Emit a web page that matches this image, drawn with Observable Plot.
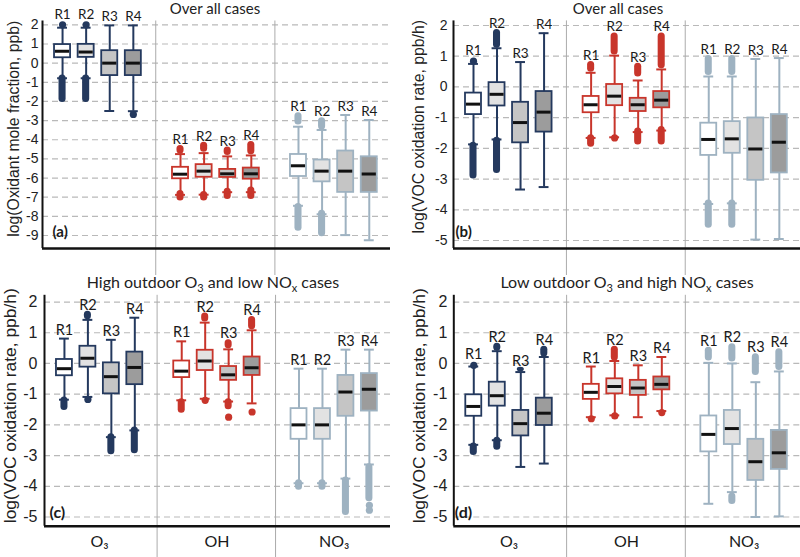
<!DOCTYPE html>
<html><head><meta charset="utf-8">
<script src="https://cdn.jsdelivr.net/npm/d3@7"></script>
<script src="https://cdn.jsdelivr.net/npm/@observablehq/plot@0.6"></script>
<style>
body{margin:0;background:#fff;}
#wrap{position:relative;width:800px;height:557px;overflow:hidden;background:#fff;}
.panel{position:absolute;}
.title{position:absolute;width:400px;text-align:center;font-family:Lato,"Open Sans",sans-serif;color:#222;white-space:nowrap;}
.title sub{font-size:11px;vertical-align:baseline;position:relative;top:4px;}
</style></head><body><div id="wrap"></div>
<script>
// categories
const groups = ["O₃", "OH", "NO₃"];
const regions = ["R1", "R2", "R3", "R4"];
const groupColors = ["#24395e", "#c8352b", "#9eb2c1"];
const regionFills = ["#ffffff", "#e2e2e2", "#c5c5c5", "#9c9c9c"];
const separators = [3.95, 9];
const groupCenters = [1.5, 6.5, 11.5];

// titles and labels
const titles = ["Over all cases", "Over all cases",
  "High outdoor O<sub>3</sub> and low NO<sub>x</sub> cases",
  "Low outdoor O<sub>3</sub> and high NO<sub>x</sub> cases"];
const yLabels = ["log(Oxidant mole fraction, ppb)", "log(VOC oxidation rate, ppb/h)",
  "log(VOC oxidation rate, ppb/h)", "log(VOC oxidation rate, ppb/h)"];
const tags = ["(a)", "(b)", "(c)", "(d)"];
const ticksA = [2, 1, 0, -1, -2, -3, -4, -5, -6, -7, -8, -9];
const ticksB = [2, 1, 0, -1, -2, -3, -4, -5];

// box order: O3 R1..R4, OH R1..R4, NO3 R1..R4
// panel (a)
const aLow  = [-0.79, -0.79, -2.50, -2.51, -6.88, -6.87, -6.74, -6.74, -7.45, -7.89, -8.98, -9.25];
const aQ1   = [0.28, 0.30, -0.65, -0.65, -6.04, -5.96, -5.97, -6.06, -5.92, -6.20, -6.75, -6.75];
const aMed  = [0.62, 0.58, 0.00, 0.00, -5.80, -5.64, -5.78, -5.78, -5.36, -5.64, -5.64, -5.79];
const aQ3   = [0.97, 0.98, 0.65, 0.65, -5.44, -5.30, -5.55, -5.48, -4.77, -5.06, -4.59, -4.89];
const aHigh = [1.85, 1.85, 1.97, 1.97, -4.75, -4.70, -4.87, -4.82, -3.32, -3.49, -2.71, -2.97];
// outliers: [box, value] = single point, [box, top, bottom] = dense run of points
const aOut = [[0, 2.0], [0, -0.62, -2.05], [1, 2.0], [1, -0.62, -2.05], [3, -2.68],
  [4, -4.30, -4.74], [4, -6.65, -7.20], [5, -4.13, -4.65], [5, -6.70, -7.20],
  [6, -4.38, -4.82], [6, -6.53, -7.12], [7, -4.09, -4.78], [7, -6.47, -7.12],
  [8, -2.59, -3.23], [8, -7.33, -8.78], [9, -2.85, -3.49], [9, -7.68, -9.07]];

// panel (b)
const bLow  = [-1.87, -1.71, -3.34, -3.26, -1.66, -1.64, -1.47, -1.42, -3.81, -3.79, -4.97, -4.95];
const bQ1   = [-0.90, -0.62, -1.82, -1.47, -0.84, -0.61, -0.80, -0.68, -2.23, -2.16, -3.04, -2.80];
const bMed  = [-0.56, -0.24, -1.16, -0.82, -0.58, -0.30, -0.58, -0.43, -1.71, -1.69, -2.02, -1.80];
const bQ3   = [-0.20, 0.14, -0.50, -0.15, -0.31, 0.08, -0.37, -0.15, -1.18, -1.13, -1.01, -0.90];
const bHigh = [0.75, 1.26, 0.81, 1.75, 0.46, 1.02, 0.21, 0.57, 0.34, 0.34, 0.91, 0.94];
const bOut = [[0, 0.84], [0, -1.80, -3.00], [1, 1.87, 1.26], [1, -1.64, -2.82],
  [4, 0.83, 0.48], [4, -1.56, -1.96], [5, 1.76, 1.04], [5, -1.66],
  [6, 0.77, 0.32], [6, -1.34, -1.89], [7, 1.76, 0.59], [7, -1.29, -1.89],
  [8, 1.02, 0.37], [8, -3.68, -4.60], [9, 1.02, 0.37], [9, -3.68, -4.60]];

// panel (c)
const cLow  = [-1.18, -1.09, -2.40, -2.18, -1.20, -1.15, -1.24, -1.30, -3.90, -3.90, -3.75, -3.29];
const cQ1   = [-0.40, -0.12, -0.99, -0.69, -0.46, -0.23, -0.55, -0.39, -2.47, -2.47, -1.72, -1.55];
const cMed  = [-0.17, 0.17, -0.43, -0.13, -0.25, 0.08, -0.37, -0.14, -2.00, -2.00, -0.93, -0.84];
const cQ3   = [0.13, 0.56, 0.02, 0.37, 0.08, 0.43, -0.10, 0.21, -1.47, -1.47, -0.39, -0.33];
const cHigh = [0.81, 1.42, 0.77, 1.49, 0.72, 1.33, 0.46, 1.08, -0.17, -0.17, 0.45, 0.45];
const cOut = [[0, -1.09, -1.53], [1, 1.70, 1.42], [1, -1.17], [2, -2.29, -2.97], [3, -2.07, -2.94],
  [4, -1.15, -1.62], [5, 1.64, 1.35], [5, -1.20], [6, 0.77, 0.48], [6, -1.15, -1.51], [6, -1.75],
  [7, 1.53, 1.10], [7, -1.58], [8, -3.79, -4.13], [9, -3.79, -4.13], [10, -3.70, -4.95],
  [11, -3.27, -4.50], [11, -4.62], [11, -4.78]];

// panel (d)
const dLow  = [-2.65, -2.50, -3.37, -3.26, -1.75, -1.69, -1.75, -1.55, -4.57, -4.19, -5.00, -4.98];
const dQ1   = [-1.72, -1.39, -2.36, -2.02, -1.17, -0.99, -1.04, -0.86, -2.88, -2.64, -3.81, -3.45];
const dMed  = [-1.40, -1.05, -1.96, -1.62, -0.94, -0.75, -0.80, -0.68, -2.31, -2.12, -3.20, -2.91];
const dQ3   = [-1.02, -0.61, -1.53, -1.13, -0.68, -0.50, -0.55, -0.44, -1.71, -1.53, -2.47, -2.18];
const dHigh = [-0.10, 0.40, -0.28, 0.21, -0.10, 0.08, -0.06, 0.21, 0.02, 0.00, -0.61, -0.26];
const dOut = [[0, -0.06], [0, -2.59, -3.00], [1, 0.66, 0.40], [1, -2.40, -2.83], [2, -0.12, -0.27],
  [3, 0.56, 0.21], [4, -1.80], [5, 0.56, 0.08], [5, -1.71], [7, -1.60],
  [8, 0.53, 0.08], [9, 0.64, 0.05], [9, -4.22, -4.59], [10, 0.32, -0.39], [11, 0.48, -0.23]];

const xDomain = [-0.85, 13.9];
const boxHalf = 0.34, capHalf = 0.21, runHalf = 0.15;

const panels = [
  {left: 0, top: 0, h: 275, ml: 42, mr: 10, mt: 20.5, mb: 27, yd: [-9.68, 2.2], ticks: ticksA,
   low: aLow, q1: aQ1, med: aMed, q3: aQ3, high: aHigh, out: aOut,
   tickPad: 4, tickFont: 14, labFont: 15.8, labDx: -29, labDy: -6, tagDx: 10, tagDy: -12, tagFont: 15, rFont: 13.5, xLab: false,
   tLeft: 15, tTop: 0, tFont: 15, tLine: 17},
  {left: 400, top: 0, h: 275, ml: 53, mr: 0, mt: 20.4, mb: 27, yd: [-5.26, 2.15], ticks: ticksB,
   low: bLow, q1: bQ1, med: bMed, q3: bQ3, high: bHigh, out: bOut,
   tickPad: 6, tickFont: 14, labFont: 15.8, labDx: -35, labDy: -8, tagDx: 2, tagDy: -12, tagFont: 15, rFont: 13.5, xLab: false,
   tLeft: 418, tTop: 0, tFont: 15, tLine: 17},
  {left: 0, top: 275, h: 282, ml: 44, mr: 10, mt: 19.8, mb: 31.3, yd: [-5.3, 2.22], ticks: ticksB,
   low: cLow, q1: cQ1, med: cMed, q3: cQ3, high: cHigh, out: cOut,
   tickPad: 7, tickFont: 16, labFont: 17.4, labDx: -34, labDy: -5, tagDx: 5, tagDy: -8, tagFont: 16, rFont: 14.5, xLab: true,
   tLeft: 13, tTop: 274, tFont: 16, tLine: 16},
  {left: 400, top: 275, h: 282, ml: 53.3, mr: 0, mt: 19.8, mb: 31.3, yd: [-5.3, 2.22], ticks: ticksB,
   low: dLow, q1: dQ1, med: dMed, q3: dQ3, high: dHigh, out: dOut,
   tickPad: 6.5, tickFont: 16, labFont: 17.4, labDx: -34, labDy: -5, tagDx: 1, tagDy: -8, tagFont: 16, rFont: 14.5, xLab: true,
   tLeft: 427, tTop: 274, tFont: 16, tLine: 16}
];

const wrap = document.getElementById("wrap");
const col = d => groupColors[d.g];
const sans = "'Liberation Sans', Arial, sans-serif";
const lato = "Lato, 'Open Sans', sans-serif";

panels.forEach((p, k) => {
  const boxes = p.low.map((lo, i) => ({
    i, g: Math.floor(i / 4), r: i % 4, slot: Math.floor(i / 4) * 5 + (i % 4),
    low: lo, q1: p.q1[i], med: p.med[i], q3: p.q3[i], high: p.high[i]
  }));
  // what sits on top of each box: "cap" (whisker end), "run" (dense outliers) or "dot" (single outlier)
  boxes.forEach(b => {
    let top = b.high, kind = "cap";
    p.out.filter(o => o[0] === b.i).forEach(o => { if (o[1] > top) { top = o[1]; kind = o.length === 2 ? "dot" : "run"; } });
    b.top = top; b.kind = kind;
  });
  const segs = p.out.filter(o => o.length === 3).map(o => ({...boxes[o[0]], a: o[1], b: o[2]}));
  const pts = p.out.filter(o => o.length === 2).map(o => ({...boxes[o[0]], v: o[1]}));
  const labelGap = {cap: -4, run: -1.5, dot: -6};

  const marks = [
    Plot.gridY(p.ticks, {stroke: "#b9b9b9", strokeOpacity: 1, strokeWidth: 1.2, strokeDasharray: "6,4"}),
    Plot.ruleX(separators, {stroke: "#ababab", strokeWidth: 1}),
    Plot.axisX(separators, {tickSize: p.mb, tickFormat: () => "", stroke: "#ababab", label: null}),
    Plot.ruleX(boxes, {x: "slot", y1: "low", y2: "high", stroke: col, strokeWidth: 2}),
    Plot.rect(segs, {x1: d => d.slot - runHalf, x2: d => d.slot + runHalf, y1: "b", y2: "a", fill: col, rx: 3.5}),
    Plot.dot(pts, {x: "slot", y: "v", r: 3.6, fill: col, stroke: null}),
    Plot.ruleY(boxes, {y: "low", x1: d => d.slot - capHalf, x2: d => d.slot + capHalf, stroke: col, strokeWidth: 2}),
    Plot.ruleY(boxes, {y: "high", x1: d => d.slot - capHalf, x2: d => d.slot + capHalf, stroke: col, strokeWidth: 2}),
    Plot.rect(boxes, {x1: d => d.slot - boxHalf, x2: d => d.slot + boxHalf, y1: "q1", y2: "q3",
      fill: d => regionFills[d.r], stroke: col, strokeWidth: 1.8}),
    Plot.ruleY(boxes, {y: "med", x1: d => d.slot - boxHalf + 0.04, x2: d => d.slot + boxHalf - 0.04, stroke: "#111", strokeWidth: 3}),
    ...["cap", "run", "dot"].map(kind => Plot.text(boxes.filter(b => b.kind === kind), {
      x: "slot", y: "top", text: d => regions[d.r], dy: labelGap[kind], lineAnchor: "bottom",
      fontSize: p.rFont, fontFamily: lato, fill: "#1a1a1a"})),
    Plot.ruleX([xDomain[0]], {stroke: "#111", strokeWidth: 2}),
    Plot.ruleY([p.yd[0]], {stroke: "#111", strokeWidth: 2.5}),
    Plot.axisY(p.ticks, {tickSize: 0, tickPadding: p.tickPad, tickFormat: d => String(d), fontSize: p.tickFont,
      fontFamily: sans, fill: "#222", label: null}),
    Plot.text([yLabels[k]], {frameAnchor: "left", rotate: -90, dx: p.labDx, dy: p.labDy, fontSize: p.labFont,
      fontFamily: sans, fill: "#222", textAnchor: "middle"}),
    Plot.text([tags[k]], {frameAnchor: "bottom-left", textAnchor: "start", lineAnchor: "bottom", dx: p.tagDx, dy: p.tagDy,
      fontWeight: "bold", fontSize: p.tagFont, fontFamily: lato, fill: "#1a1a1a"})
  ];
  if (p.xLab) {
    marks.push(Plot.text(groups, {x: (d, i) => groupCenters[i], frameAnchor: "bottom", lineAnchor: "top", dy: 9,
      fontSize: 16, fontFamily: lato, fill: "#1a1a1a"}));
  }

  const svg = Plot.plot({
    width: 400, height: p.h,
    marginLeft: p.ml, marginRight: p.mr, marginTop: p.mt, marginBottom: p.mb,
    x: {domain: xDomain, axis: null},
    y: {domain: p.yd, axis: null},
    color: {type: "identity"},
    style: {fontFamily: sans, fontSize: "14px", background: "transparent", overflow: "visible", color: "#222"},
    marks
  });
  const holder = document.createElement("div");
  holder.className = "panel";
  holder.style.left = p.left + "px";
  holder.style.top = p.top + "px";
  holder.appendChild(svg);
  wrap.appendChild(holder);

  const t = document.createElement("div");
  t.className = "title";
  t.style.left = p.tLeft + "px";
  t.style.top = p.tTop + "px";
  t.style.fontSize = p.tFont + "px";
  t.style.lineHeight = p.tLine + "px";
  t.innerHTML = titles[k];
  wrap.appendChild(t);
});
</script>
</body></html>
